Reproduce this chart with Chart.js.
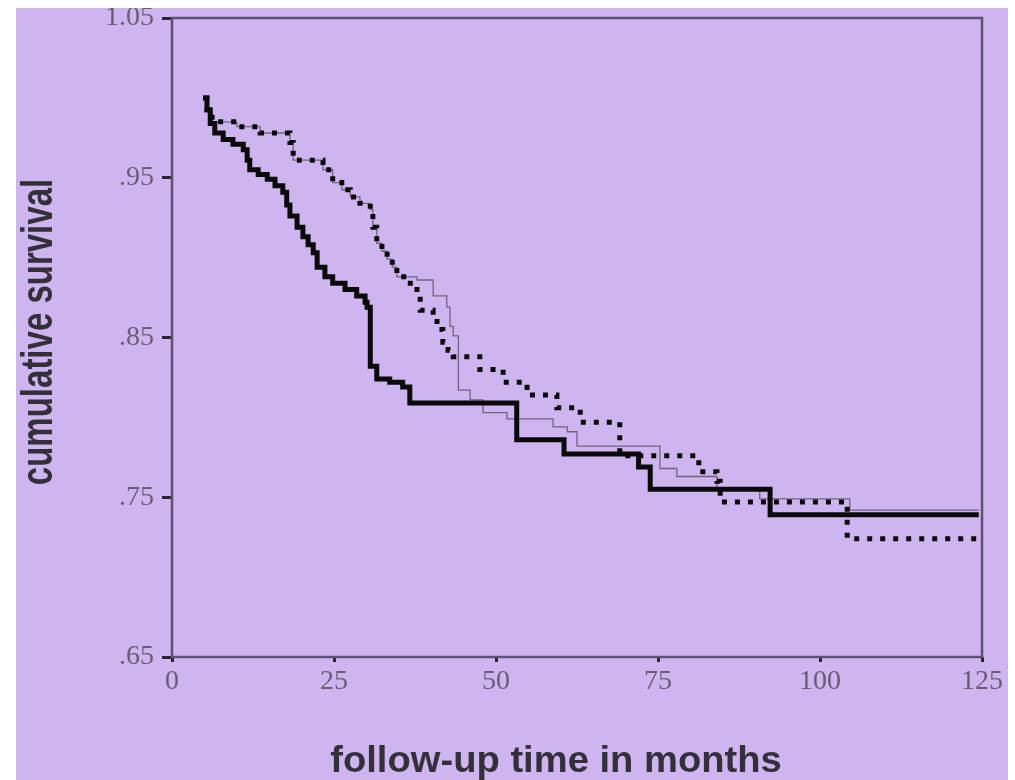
<!DOCTYPE html>
<html>
<head>
<meta charset="utf-8">
<script src="https://cdn.jsdelivr.net/npm/chart.js@4.4.1/dist/chart.umd.min.js"></script>
<style>
  html, body { margin: 0; padding: 0; background: #ffffff; }
  #panel { position: absolute; left: 16px; top: 8px; width: 992px; height: 772px; background: #cfb5f0; overflow: hidden; }
  canvas { display: block; }
</style>
</head>
<body>
<div id="panel"><canvas id="chart" width="992" height="772"></canvas></div>
<script>
// tick values / labels
const xTickValues = [0, 25, 50, 75, 100, 125];
const yTickValues = [0.65, 0.75, 0.85, 0.95, 1.05];
const yTickLabels = ['.65', '.75', '.85', '.95', '1.05'];

// thick solid curve
const solidTime = [4.8, 5.4, 5.9, 6.6, 7.9, 9.4, 11.0, 11.6, 12.0, 13.3, 14.7, 15.9, 17.1, 17.7, 18.2, 19.3, 20.2, 21.0, 21.8, 22.4, 23.6, 24.8, 26.7, 28.5, 29.8, 30.1, 30.6, 31.6, 33.6, 35.6, 36.7, 53.2, 60.5, 72.0, 73.8, 92.3, 124.5];
const solidSurv = [1.0, 0.9925, 0.984, 0.978, 0.974, 0.971, 0.9675, 0.961, 0.955, 0.952, 0.949, 0.945, 0.941, 0.933, 0.926, 0.919, 0.913, 0.908, 0.903, 0.894, 0.888, 0.884, 0.880, 0.876, 0.872, 0.869, 0.832, 0.824, 0.822, 0.819, 0.809, 0.786, 0.777, 0.769, 0.755, 0.739, 0.739];

// thick dotted curve
const dotTime = [4.8, 5.4, 6.2, 10.0, 13.6, 18.2, 18.7, 23.3, 24.8, 26.2, 27.5, 29.0, 30.6, 31.0, 31.6, 32.4, 33.2, 34.0, 34.7, 36.3, 37.8, 38.3, 40.3, 40.9, 41.8, 42.6, 43.4, 47.5, 51.1, 54.8, 59.4, 63.0, 69.1, 81.3, 84.1, 84.6, 104.2, 124.5];
const dotSurv = [1.0, 0.9925, 0.985, 0.982, 0.978, 0.972, 0.961, 0.955, 0.947, 0.9425, 0.938, 0.934, 0.930, 0.919, 0.909, 0.904, 0.899, 0.894, 0.888, 0.884, 0.878, 0.867, 0.863, 0.855, 0.847, 0.842, 0.838, 0.830, 0.822, 0.814, 0.806, 0.797, 0.776, 0.766, 0.760, 0.747, 0.724, 0.724];

// thin grey curve
const greyTime = [4.8, 5.4, 6.2, 10.0, 13.6, 18.2, 18.7, 23.3, 24.8, 26.2, 27.5, 29.0, 30.6, 31.0, 31.6, 32.4, 33.2, 34.0, 34.7, 37.8, 40.3, 42.4, 42.9, 43.4, 44.2, 46.0, 48.0, 51.7, 58.8, 61.0, 62.5, 75.3, 77.9, 84.1, 90.7, 104.6, 124.5];
const greySurv = [1.0, 0.9925, 0.985, 0.982, 0.978, 0.972, 0.961, 0.955, 0.947, 0.9425, 0.938, 0.934, 0.930, 0.919, 0.909, 0.904, 0.899, 0.894, 0.888, 0.886, 0.876, 0.869, 0.857, 0.851, 0.817, 0.811, 0.803, 0.799, 0.794, 0.791, 0.782, 0.768, 0.763, 0.755, 0.749, 0.742, 0.742];

const axisColor = '#5e5070';
const tickTextColor = '#685d74';
const titleColor = '#34303a';

function toPoints(xs, ys) {
    return xs.map((x, i) => ({ x: x, y: ys[i] }));
}

const framePlugin = {
    id: 'frame',
    beforeDatasetsDraw(chart) {
        const { ctx, chartArea: a } = chart;
        ctx.save();
        ctx.strokeStyle = axisColor;
        ctx.lineWidth = 2.5;
        ctx.strokeRect(a.left, a.top, a.right - a.left, a.bottom - a.top);
        ctx.restore();
    },
    afterDraw(chart) {
        const ctx = chart.ctx;
        ctx.save();
        ctx.fillStyle = titleColor;
        ctx.textAlign = 'center';
        ctx.textBaseline = 'alphabetic';

        // x title
        ctx.font = 'bold 36px "Liberation Sans", Arial, sans-serif';
        ctx.save();
        ctx.translate(540, 764);
        ctx.scale(1.06, 1);
        ctx.fillText('follow-up time in months', 0, 0);
        ctx.restore();

        // y title
        ctx.font = 'bold 33px "Liberation Sans", Arial, sans-serif';
        ctx.save();
        ctx.translate(36, 324);
        ctx.rotate(-Math.PI / 2);
        ctx.scale(1, 1.35);
        ctx.fillText('cumulative survival', 0, 0);
        ctx.restore();

        ctx.restore();
    }
};

window.onload = function () {
    const ctx = document.getElementById('chart').getContext('2d');
    new Chart(ctx, {
        type: 'line',
        data: {
            datasets: [
                {
                    data: toPoints(solidTime, solidSurv),
                    borderColor: '#0a0a0a',
                    borderWidth: 5,
                    stepped: 'before',
                    pointRadius: 0,
                    fill: false,
                },
                {
                    data: toPoints(dotTime, dotSurv),
                    borderColor: '#0a0a0a',
                    borderWidth: 5,
                    borderDash: [5, 8],
                    stepped: 'before',
                    pointRadius: 0,
                    fill: false,
                },
                {
                    data: toPoints(greyTime, greySurv),
                    borderColor: 'rgba(95,85,105,0.85)',
                    borderWidth: 1.3,
                    stepped: 'before',
                    pointRadius: 0,
                    fill: false,
                },
            ],
        },
        options: {
            responsive: false,
            animation: false,
            events: [],
            layout: {
                autoPadding: false,
                padding: { left: 0, top: 10, right: 26, bottom: 0 },
            },
            plugins: {
                legend: { display: false },
                tooltip: { enabled: false },
                title: { display: false },
            },
            scales: {
                x: {
                    type: 'linear',
                    min: 0,
                    max: 125,
                    afterBuildTicks: (scale) => {
                        scale.ticks = xTickValues.map(v => ({ value: v }));
                    },
                    afterFit: (scale) => { scale.height = 123; },
                    border: { display: false },
                    grid: {
                        drawOnChartArea: false,
                        drawTicks: true,
                        tickLength: 5,
                        tickWidth: 3,
                        tickColor: '#2a2330',
                        color: '#2a2330',
                        lineWidth: 3,
                    },
                    ticks: {
                        autoSkip: false,
                        maxRotation: 0,
                        padding: 3,
                        color: tickTextColor,
                        font: { family: '"Liberation Serif", "Times New Roman", serif', size: 28 },
                        callback: (v) => String(v),
                    },
                },
                y: {
                    type: 'linear',
                    min: 0.65,
                    max: 1.05,
                    afterBuildTicks: (scale) => {
                        scale.ticks = yTickValues.map(v => ({ value: v }));
                    },
                    afterFit: (scale) => { scale.width = 156; },
                    border: { display: false },
                    grid: {
                        drawOnChartArea: false,
                        drawTicks: true,
                        tickLength: 10,
                        tickWidth: 3,
                        tickColor: '#2a2330',
                        color: '#2a2330',
                        lineWidth: 3,
                    },
                    ticks: {
                        autoSkip: false,
                        padding: 8,
                        color: tickTextColor,
                        font: { family: '"Liberation Serif", "Times New Roman", serif', size: 28, lineHeight: 0.1 },
                        callback: (v, i) => yTickLabels[i],
                    },
                },
            },
        },
        plugins: [framePlugin],
    });
};
</script>
</body>
</html>
